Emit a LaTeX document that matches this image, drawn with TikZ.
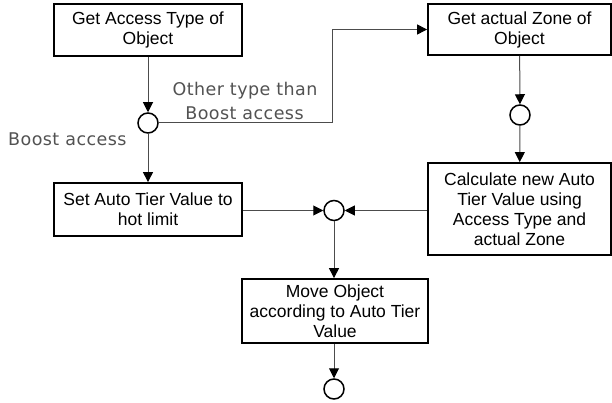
\documentclass[tikz,border=0pt]{standalone}
\usepackage{fontspec}
\setmainfont{Liberation Sans}
\newfontfamily\labelfont[LetterSpace=2.5]{DejaVu Sans}
\usetikzlibrary{arrows.meta}
\begin{document}
\begin{tikzpicture}[x=1pt,y=-1pt,
 box/.style={draw=black,line width=1.8pt,fill=white,align=center,inner sep=0pt,font=\fontsize{17.5}{20}\selectfont},
 junc/.style={circle,draw=black,line width=1.5pt,fill=white,minimum size=20pt,inner sep=0pt},
 conn/.style={draw=black!70,line width=1pt,-{Triangle[length=10pt,width=10pt,color=black]}},
 lbl/.style={text=black!68,font=\labelfont\fontsize{17.5}{20}\selectfont,inner sep=0pt}]
\useasboundingbox (0,0) rectangle (612,403);

\node[box,minimum width=188pt,minimum height=52pt] (acc) at (148,30) {Get Access Type of\\Object};
\node[junc] (c1) at (148,123) {};
\node[box,minimum width=188pt,minimum height=53pt] (hot) at (148,209.5) {Set Auto Tier Value to\\hot limit};
\node[box,minimum width=183pt,minimum height=51pt] (zone) at (519.5,29.5) {Get actual Zone of\\Object};
\node[junc] (c2) at (520,115) {};
\node[box,minimum width=183pt,minimum height=92pt] (calc) at (519.5,209) {Calculate new Auto\\Tier Value using\\Access Type and\\actual Zone};
\node[junc] (m) at (334,210.5) {};
\node[box,minimum width=186pt,minimum height=64pt] (move) at (335,311) {Move Object\\according to Auto Tier\\Value};
\node[junc] (end) at (334,389) {};

\coordinate (k) at (332,29.5);

\draw[conn] (acc) -- (c1);
\draw[conn] (c1) -- (hot);
\draw[conn] (c1.east) -| (k) -- (zone.west);
\draw[conn] (zone) -- (c2);
\draw[conn] (c2) -- (calc);
\draw[conn] (hot.east |- m) -- (m);
\draw[conn] (calc.west |- m) -- (m);
\draw[conn] (m) -- (move.north -| m);
\draw[conn] (move.south -| end) -- (end);

\node[lbl,anchor=base] (l1) at (245,96) {Other type than};
\node[lbl,anchor=base] (l2) at (244.5,120) {Boost access};
\node[lbl,anchor=base west] (l3) at (8,146) {Boost access};
\end{tikzpicture}
\end{document}
